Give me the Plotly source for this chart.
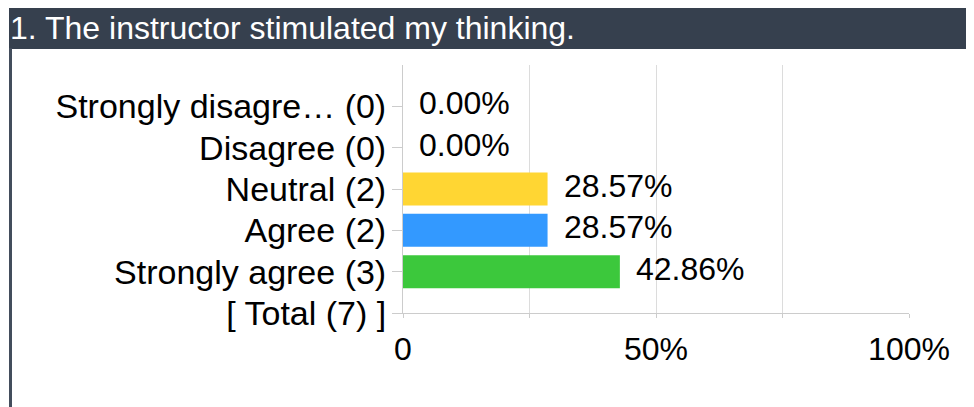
import plotly.graph_objects as go

# ---- data ----
categories = ["Strongly disagre\u2026 (0)", "Disagree (0)", "Neutral (2)", "Agree (2)",
              "Strongly agree (3)", "[ Total (7) ]"]
percents = [0.0, 0.0, 28.57, 28.57, 42.86]
bar_colors = ["#ffd633", "#ffd633", "#ffd633", "#3399ff", "#3cc83c"]
x_tickvals = [0, 25, 50, 75, 100]
x_ticktext = ["0", "", "50%", "", "100%"]
title_text = "1. The instructor stimulated my thinking."

OFF = 8  # default page body margin
W, H = 974 - OFF, 407 - OFF
L, R, T, B = 403 - OFF, 65, 65 - OFF, 94
PW, PH = W - L - R, H - T - B

def px_x(p):
    return (p - OFF - L) / PW

def px_y(p):
    return (H - B - (p - OFF)) / PH

FONT = "Liberation Sans, Arial, sans-serif"
ypos = list(range(len(categories)))

fig = go.Figure()
fig.add_trace(go.Bar(
    x=percents, y=ypos[:len(percents)], orientation="h",
    marker=dict(color=bar_colors, line=dict(width=0)),
    width=0.8, hoverinfo="skip", showlegend=False,
))

for yi, v in zip(ypos, percents):
    fig.add_annotation(x=v, y=yi, xref="x", yref="y", text=f"{v:.2f}%",
                       showarrow=False, xanchor="left", yanchor="middle",
                       xshift=14, yshift=3,
                       font=dict(family=FONT, size=32, color="#000000"))

# title bar and left border
fig.add_shape(type="rect", xref="paper", yref="paper",
              x0=px_x(9), x1=px_x(980), y0=px_y(49), y1=px_y(7),
              fillcolor="#36404e", line=dict(width=0), layer="below")
fig.add_shape(type="rect", xref="paper", yref="paper",
              x0=px_x(9), x1=px_x(12), y0=px_y(412), y1=px_y(48),
              fillcolor="#434d5c", line=dict(width=0), layer="below")
fig.add_annotation(x=px_x(8), y=px_y(28), xref="paper", yref="paper",
                   text=title_text, showarrow=False, xanchor="left", yanchor="middle",
                   font=dict(family=FONT, size=32, color="#ffffff"))

fig.update_xaxes(range=[0, 100], tickvals=x_tickvals, ticktext=x_ticktext,
                 showgrid=True, gridcolor="#dcdcdc", gridwidth=1,
                 ticks="outside", ticklen=4, tickcolor="#cccccc",
                 showline=True, linecolor="#cccccc", linewidth=1,
                 zeroline=False, ticklabelstandoff=4,
                 tickfont=dict(family=FONT, size=32, color="#000000"),
                 fixedrange=True)
fig.update_yaxes(range=[len(categories) - 1, -1], tickvals=ypos, ticktext=categories,
                 showgrid=False, ticks="outside", ticklen=10, tickcolor="#cccccc",
                 showline=True, linecolor="#cccccc", linewidth=1,
                 zeroline=False, ticklabelstandoff=-1,
                 tickfont=dict(family=FONT, size=34, color="#000000"),
                 fixedrange=True)

fig.update_layout(width=W, height=H, autosize=False,
                  margin=dict(l=L, r=R, t=T, b=B, pad=0),
                  paper_bgcolor="#ffffff", plot_bgcolor="#ffffff",
                  bargap=0.2, showlegend=False)

fig.write_html("out.html", config={"displayModeBar": False})
